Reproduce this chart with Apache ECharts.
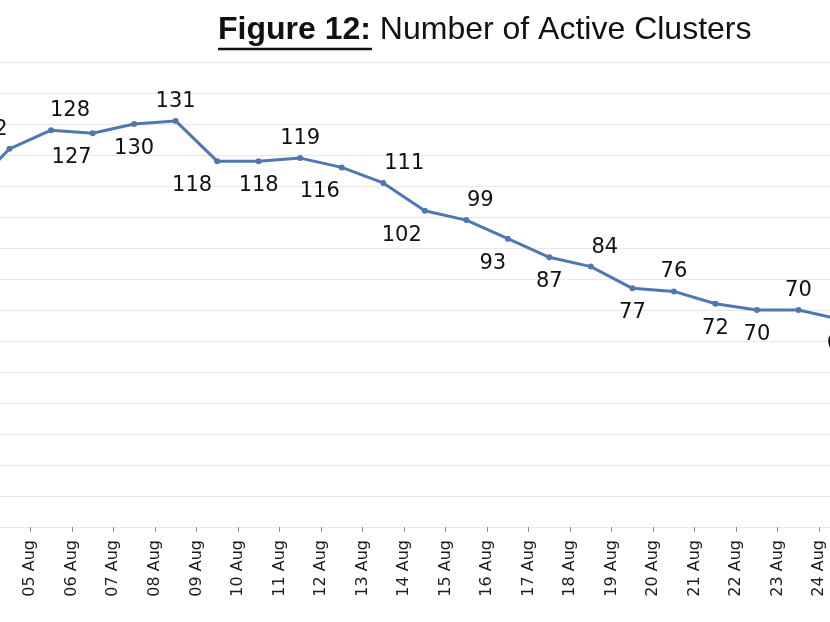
<!DOCTYPE html>
<html>
<head>
<meta charset="utf-8">
<script src="https://cdn.jsdelivr.net/npm/echarts@6/dist/echarts.min.js"></script>
<style>
  html, body { margin: 0; padding: 0; background: #ffffff; overflow: hidden; width: 830px; height: 622px; }
  #wrap { position: relative; width: 830px; height: 622px; overflow: hidden; }
  #chart { position: absolute; left: -32px; top: 0; width: 872px; height: 622px; }
</style>
</head>
<body>
<div id="wrap"><div id="chart"></div></div>
<script>
// Date labels on the x axis (placed between the points, as in the reference)
const dateLabels = ['04 Aug', '05 Aug', '06 Aug', '07 Aug', '08 Aug', '09 Aug', '10 Aug',
  '11 Aug', '12 Aug', '13 Aug', '14 Aug', '15 Aug', '16 Aug', '17 Aug', '18 Aug',
  '19 Aug', '20 Aug', '21 Aug', '22 Aug', '23 Aug', '24 Aug'];

// Number of active clusters (first and last points are partly cut off in the reference)
const activeClusters = [108, 122, 128, 127, 130, 131, 118, 118, 119, 116, 111, 102,
  99, 93, 87, 84, 77, 76, 72, 70, 70, 67];

// Label placement (side of the line and horizontal shift), kept apart from the values
const labelSide = ['bottom', 'top', 'top', 'bottom', 'bottom', 'top', 'bottom', 'bottom',
  'top', 'bottom', 'top', 'bottom', 'top', 'bottom', 'bottom', 'top', 'bottom', 'top',
  'bottom', 'bottom', 'top', 'bottom'];
const labelShift = [0, -22, 19, -21, 0, 0, -25, 0, 0, -22, 21, -23, 14, -15, 0, 14,
  0, 0, 0, 0, 0, 0];

const pointIds = activeClusters.map((_, i) => 'p' + i);

const lineColor = '#4F78B0';
const shiftX = 32; // the drawing canvas starts 32px left of the visible page

const seriesData = activeClusters.map((v, i) => ({
  value: v,
  label: {
    position: labelSide[i],
    distance: labelSide[i] === 'top' ? 6 : 11
  }
}));

const chart = echarts.init(document.getElementById('chart'), null, { renderer: 'canvas' });

chart.setOption({
  animation: false,
  backgroundColor: '#ffffff',
  title: {
    text: '{a|Figure 12:} {b|Number of Active Clusters}',
    left: 213 + shiftX,
    top: 7,
    textStyle: {
      fontFamily: 'Liberation Sans',
      fontSize: 32,
      color: '#111111',
      rich: {
        a: { fontFamily: 'Liberation Sans', fontWeight: 'bold', fontSize: 32, color: '#111111', lineHeight: 36 },
        b: { fontFamily: 'Liberation Sans', fontWeight: 'normal', fontSize: 32, color: '#111111', lineHeight: 36 }
      }
    }
  },
  graphic: [{
    type: 'line',
    shape: { x1: 218 + shiftX, y1: 49, x2: 372 + shiftX, y2: 49 },
    style: { stroke: '#111111', lineWidth: 2.5 },
    silent: true
  }],
  grid: {
    left: 0,
    right: 0,
    top: 62,
    bottom: 95
  },
  xAxis: [{
    type: 'category',
    data: pointIds,
    boundaryGap: false,
    show: false
  }, {
    type: 'category',
    data: dateLabels,
    boundaryGap: true,
    position: 'bottom',
    axisLine: { show: false },
    axisTick: { show: true, alignWithLabel: true, length: 5, lineStyle: { color: '#8c8c8c', width: 1 } },
    axisLabel: {
      rotate: 90,
      margin: 13,
      interval: 0,
      fontFamily: 'DejaVu Sans',
      fontSize: 16,
      color: '#1e1e1e'
    },
    splitLine: { show: false }
  }],
  yAxis: {
    type: 'value',
    min: 0,
    max: 150,
    interval: 10,
    axisLabel: { show: false },
    axisLine: { show: false },
    axisTick: { show: false },
    splitLine: { show: true, lineStyle: { color: '#e8e8e8', width: 1 } }
  },
  series: [{
    type: 'line',
    xAxisIndex: 0,
    data: seriesData,
    symbol: 'circle',
    symbolSize: 6,
    lineStyle: { color: lineColor, width: 3 },
    itemStyle: { color: lineColor },
    label: {
      show: true,
      fontFamily: 'DejaVu Sans',
      fontSize: 21,
      color: '#111111'
    },
    labelLayout: function (params) {
      return { dx: labelShift[params.dataIndex], hideOverlap: false };
    }
  }]
});
</script>
</body>
</html>
